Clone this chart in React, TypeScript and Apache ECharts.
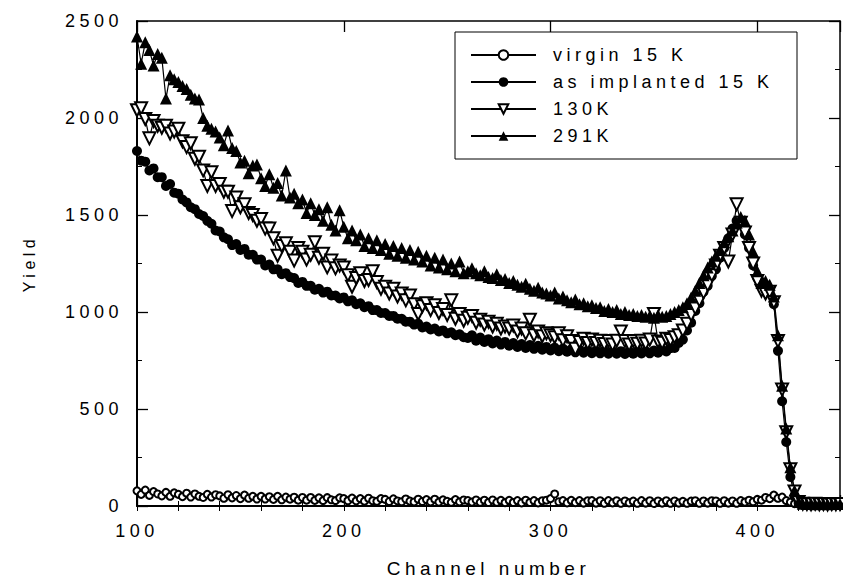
import React, { useEffect, useRef } from 'react';
import * as echarts from 'echarts';

const FONT = '"Liberation Sans", Arial, Helvetica, sans-serif';

const channels = [
  100, 102, 104, 106, 108, 110, 112, 114, 116, 118,
  120, 122, 124, 126, 128, 130, 132, 134, 136, 138,
  140, 142, 144, 146, 148, 150, 152, 154, 156, 158,
  160, 162, 164, 166, 168, 170, 172, 174, 176, 178,
  180, 182, 184, 186, 188, 190, 192, 194, 196, 198,
  200, 202, 204, 206, 208, 210, 212, 214, 216, 218,
  220, 222, 224, 226, 228, 230, 232, 234, 236, 238,
  240, 242, 244, 246, 248, 250, 252, 254, 256, 258,
  260, 262, 264, 266, 268, 270, 272, 274, 276, 278,
  280, 282, 284, 286, 288, 290, 292, 294, 296, 298,
  300, 302, 304, 306, 308, 310, 312, 314, 316, 318,
  320, 322, 324, 326, 328, 330, 332, 334, 336, 338,
  340, 342, 344, 346, 348, 350, 352, 354, 356, 358,
  360, 362, 364, 366, 368, 370, 372, 374, 376, 378,
  380, 382, 384, 386, 388, 390, 392, 394, 396, 398,
  400, 402, 404, 406, 408, 410, 412, 414, 416, 418,
  420, 422, 424, 426, 428, 430, 432, 434, 436, 438,
  440,
];

const virgin15K = [
  78, 60, 82, 55, 74, 62, 52, 70, 50, 68,
  60, 48, 66, 46, 62, 50, 44, 60, 46, 58,
  52, 40, 58, 42, 54, 38, 56, 40, 50, 36,
  50, 36, 48, 34, 50, 32, 46, 35, 45, 30,
  44, 30, 44, 29, 42, 28, 43, 32, 28, 42,
  38, 27, 41, 26, 38, 25, 40, 27, 24, 38,
  34, 23, 37, 26, 22, 36, 25, 21, 35, 23,
  33, 21, 35, 20, 32, 24, 19, 33, 21, 31,
  28, 20, 31, 19, 30, 18, 31, 19, 29, 17,
  29, 18, 28, 16, 30, 18, 28, 16, 27, 30,
  38, 62, 22, 28, 16, 29, 17, 28, 15, 27,
  28, 15, 27, 14, 28, 16, 27, 14, 26, 16,
  25, 14, 28, 15, 27, 13, 26, 15, 27, 14,
  26, 15, 24, 14, 25, 27, 14, 26, 15, 27,
  26, 14, 27, 15, 26, 14, 28, 20, 30, 22,
  34, 30, 44, 38, 56, 40, 46, 28, 20, 12,
  10, 8, 9, 7, 8, 9, 7, 8, 9, 8,
  8,
];

const asImplanted15K = [
  1830, 1780, 1775, 1730, 1740, 1695, 1695, 1650, 1660, 1615,
  1610, 1580, 1565, 1540, 1530, 1505, 1495, 1470, 1455, 1420,
  1415, 1385, 1375, 1345, 1350, 1320, 1325, 1295, 1295, 1270,
  1270, 1240, 1245, 1220, 1220, 1195, 1200, 1180, 1175, 1150,
  1155, 1135, 1135, 1115, 1120, 1100, 1105, 1085, 1085, 1070,
  1075, 1055, 1060, 1040, 1045, 1025, 1030, 1010, 1010, 995,
  995, 980, 980, 965, 965, 950, 950, 935, 940, 920,
  925, 910, 915, 900, 905, 890, 895, 880, 885, 870,
  866, 880, 852, 868, 846, 860, 838, 853, 832, 846,
  826, 840, 820, 835, 815, 830, 810, 826, 806, 820,
  802, 816, 798, 812, 795, 808, 792, 806, 790, 803,
  788, 801, 787, 800, 785, 799, 785, 798, 784, 797,
  785, 798, 786, 799, 787, 801, 790, 805, 797, 814,
  815, 840, 858, 905, 945, 1005, 1045, 1105, 1135, 1185,
  1220, 1280, 1330, 1380, 1430, 1470, 1455, 1400, 1330, 1240,
  1175, 1155, 1140, 1110, 1040, 800, 540, 330, 150, 50,
  15, 10, 8, 10, 9, 8, 10, 9, 8, 10,
  9,
];

const k130 = [
  2040, 2050, 1995, 1895, 1985, 1960, 1950, 1960, 1920, 1930,
  1945, 1880, 1850, 1870, 1790, 1800, 1730, 1650, 1720, 1650,
  1660, 1620, 1620, 1520, 1590, 1540, 1555, 1510, 1500, 1470,
  1480, 1430, 1430, 1380, 1290, 1340, 1355, 1310, 1265, 1330,
  1310, 1270, 1295, 1360, 1280, 1300, 1230, 1265, 1225, 1240,
  1230, 1190, 1130, 1175, 1200, 1160, 1165, 1210, 1155, 1120,
  1130, 1095, 1120, 1080, 1095, 1060, 1085, 1040, 990, 1030,
  1045, 1010, 1035, 995, 1015, 985, 1060, 965, 990, 955,
  970, 980, 945, 960, 935, 950, 925, 940, 915, 925,
  915, 930, 900, 915, 890, 960, 880, 900, 875, 890,
  880, 870, 890, 855, 875, 850, 810, 845, 862, 840,
  858, 840, 852, 835, 850, 832, 852, 900, 850, 832,
  850, 836, 852, 838, 858, 990, 848, 842, 862, 856,
  870, 880, 905, 940, 985, 1020, 1060, 1100, 1140, 1190,
  1240, 1290, 1330, 1260, 1400, 1555, 1460, 1410, 1330, 1250,
  1160, 1110, 1095, 1105, 1050, 850, 600, 380, 190, 75,
  20, 12, 10, 9, 11, 9, 10, 8, 10, 9,
  10,
];

const k291 = [
  2420, 2280, 2390, 2350, 2270, 2330, 2310, 2100, 2220, 2200,
  2185, 2165, 2150, 2120, 2100, 2095, 2000, 1960, 1945, 1930,
  1900, 1860, 1935, 1845, 1830, 1770, 1780, 1715, 1755, 1760,
  1690, 1650, 1710, 1640, 1665, 1600, 1730, 1590, 1610, 1560,
  1580, 1510, 1560, 1500, 1530, 1470, 1540, 1450, 1420, 1525,
  1440, 1380, 1420, 1370, 1400, 1340, 1380, 1330, 1370, 1320,
  1350, 1300, 1340, 1290, 1330, 1280, 1320, 1270, 1310, 1260,
  1290, 1240, 1280, 1230, 1270, 1220, 1250, 1210, 1260, 1200,
  1210, 1225, 1200, 1190, 1210, 1180, 1175, 1195, 1165, 1170,
  1150, 1160, 1140, 1130, 1145, 1120, 1110, 1125, 1100, 1095,
  1085, 1100, 1070, 1080, 1060, 1050, 1065, 1040, 1045, 1030,
  1035, 1020, 1025, 1005, 1015, 1000, 1010, 990, 1000, 985,
  990, 980, 985, 975, 980, 970, 985, 975, 980, 990,
  1000, 1010, 1025, 1045, 1075, 1110, 1150, 1190, 1230, 1260,
  1290, 1320, 1360, 1390, 1420, 1460, 1490, 1470, 1400, 1310,
  1210, 1150, 1160, 1140, 1080, 880, 620, 400, 200, 80,
  22, 12, 10, 11, 9, 10, 12, 9, 10, 11,
  10,
];

const seriesNames = ['virgin 15 K', 'as implanted 15 K', '130K', '291K'];
const xTickLabels = ['100', '200', '300', '400'];
const yTickLabels = ['0', '500', '1000', '1500', '2000', '2500'];

function pairs(ys: number[]) {
  return channels.map((c, i) => [c, ys[i]]);
}

export default function App() {
  const ref = useRef<HTMLDivElement>(null);
  useEffect(() => {
    if (!ref.current) return;
    const chart = echarts.init(ref.current, null, { renderer: 'svg' });
    const black = '#000';
    const textBase = { color: black, fontFamily: FONT };
    const noLine = { show: false };
    const xBase = { type: 'value', min: 100, max: 440, splitLine: { show: false } };
    const option: any = {
      animation: false,
      backgroundColor: '#fff',
      grid: { left: 137, top: 21, width: 707, height: 490, containLabel: false },
      graphic: [
        {
          type: 'rect',
          shape: { x: 455, y: 32, width: 342, height: 127 },
          style: { fill: 'none', stroke: black, lineWidth: 1 },
          silent: true,
        },
      ],
      legend: {
        orient: 'vertical',
        left: 470,
        top: 46,
        padding: 0,
        itemWidth: 65,
        itemHeight: 12,
        itemGap: 9,
        data: seriesNames,
        textStyle: { ...textBase, fontSize: 18, lineHeight: 18, padding: [0, 0, 0, 12] },
      },
      xAxis: [
        {
          ...xBase,
          interval: 100,
          position: 'bottom',
          axisLine: { show: true, onZero: false, lineStyle: { color: black, width: 2 } },
          axisTick: { show: true, inside: true, length: 11, lineStyle: { color: black, width: 1.3 } },
          axisLabel: {
            ...textBase,
            fontSize: 18,
            margin: 16,
            formatter: (v: number) => (xTickLabels.includes(String(v)) ? String(v) : ''),
          },
          name: 'Channel number',
          nameLocation: 'middle',
          nameGap: 53,
          nameTextStyle: { ...textBase, fontSize: 19 },
        },
        {
          ...xBase,
          interval: 20,
          position: 'bottom',
          axisLine: noLine,
          axisTick: { show: true, inside: true, length: 5, lineStyle: { color: black, width: 1 } },
          axisLabel: { show: false },
        },
        {
          ...xBase,
          interval: 100,
          position: 'top',
          axisLine: { show: true, onZero: false, lineStyle: { color: black, width: 1.5 } },
          axisTick: { show: true, inside: true, length: 11, lineStyle: { color: black, width: 1.3 } },
          axisLabel: { show: false },
        },
        {
          ...xBase,
          interval: 20,
          position: 'top',
          axisLine: noLine,
          axisTick: { show: true, inside: true, length: 5, lineStyle: { color: black, width: 1 } },
          axisLabel: { show: false },
        },
      ],
      yAxis: [
        {
          type: 'value',
          min: 0,
          max: 2500,
          interval: 500,
          position: 'left',
          splitLine: { show: false },
          axisLine: { show: true, onZero: false, lineStyle: { color: black, width: 2 } },
          axisTick: { show: true, inside: true, length: 11, lineStyle: { color: black, width: 1.3 } },
          minorTick: { show: true, splitNumber: 2, length: 5, lineStyle: { color: black, width: 1 } },
          axisLabel: {
            ...textBase,
            fontSize: 18,
            margin: 14,
            formatter: (v: number) => (yTickLabels.includes(String(v)) ? String(v) : ''),
          },
          name: 'Yield',
          nameLocation: 'middle',
          nameGap: 100,
          nameRotate: 90,
          nameTextStyle: { ...textBase, fontSize: 16 },
        },
        {
          type: 'value',
          min: 0,
          max: 2500,
          interval: 500,
          position: 'right',
          splitLine: { show: false },
          axisLine: { show: true, onZero: false, lineStyle: { color: black, width: 1.5 } },
          axisTick: { show: true, inside: true, length: 11, lineStyle: { color: black, width: 1.3 } },
          minorTick: { show: true, splitNumber: 2, length: 5, lineStyle: { color: black, width: 1 } },
          axisLabel: { show: false },
        },
      ],
      series: [
        {
          type: 'line',
          name: seriesNames[0],
          data: pairs(virgin15K),
          symbol: 'emptyCircle',
          symbolSize: 7,
          lineStyle: { color: black, width: 1 },
          itemStyle: { color: black, borderWidth: 1.2 },
        },
        {
          type: 'line',
          name: seriesNames[1],
          data: pairs(asImplanted15K),
          symbol: 'circle',
          symbolSize: 10,
          lineStyle: { color: black, width: 1.2 },
          itemStyle: { color: black },
        },
        {
          type: 'line',
          name: seriesNames[2],
          data: pairs(k130),
          symbol: 'emptyTriangle',
          symbolRotate: 180,
          symbolSize: 12,
          lineStyle: { color: black, width: 1.2 },
          itemStyle: { color: black, borderWidth: 1.3 },
        },
        {
          type: 'line',
          name: seriesNames[3],
          data: pairs(k291),
          symbol: 'triangle',
          symbolSize: 12,
          lineStyle: { color: black, width: 1.2 },
          itemStyle: { color: black },
        },
      ],
    };
    chart.setOption(option);
    return () => chart.dispose();
  }, []);
  return (
    <div
      ref={ref}
      style={{ position: 'absolute', left: 0, top: 0, width: 843, height: 583, letterSpacing: '4.5px' }}
    />
  );
}
